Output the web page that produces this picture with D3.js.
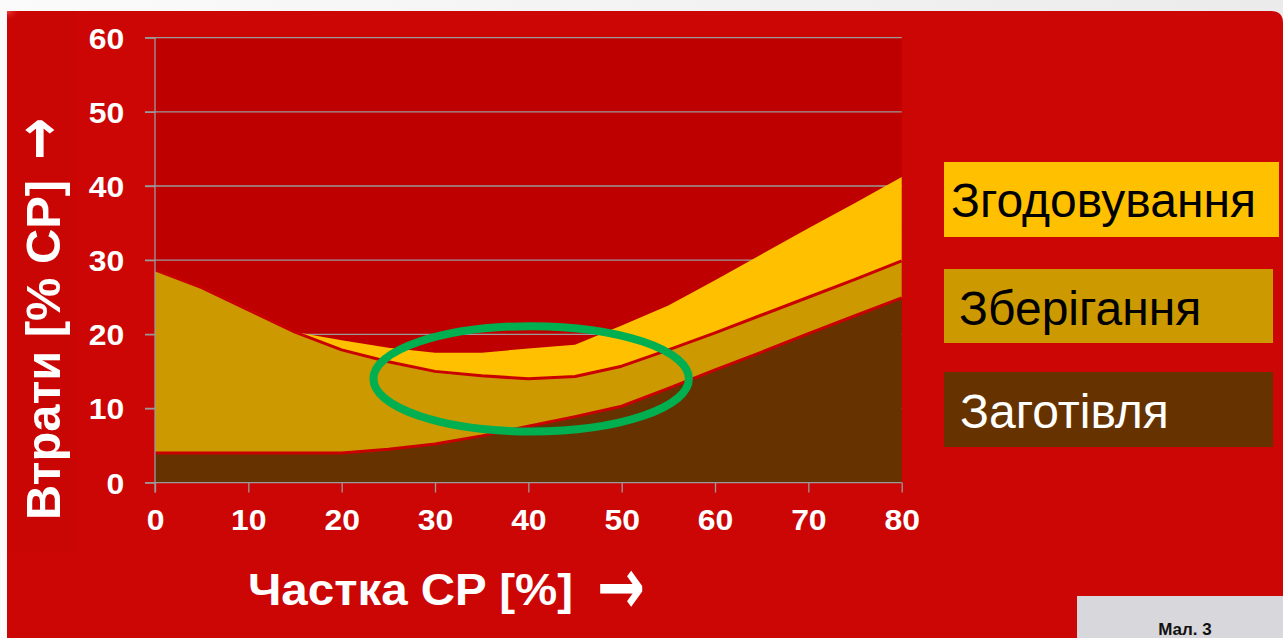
<!DOCTYPE html>
<html><head><meta charset="utf-8">
<script src="https://cdn.jsdelivr.net/npm/d3@7/dist/d3.min.js"></script>
<style>html,body{margin:0;padding:0;background:#fafafa;overflow:hidden}</style>
</head><body>
<svg id="c" width="1283" height="638"></svg>
<script>
// ---- data ----
const shareCP = [0, 5, 10, 15, 20, 25, 30, 35, 40, 45, 50, 55, 60, 65, 70, 75, 80];
const harvestLoss = [4.0, 4.0, 4.0, 4.0, 4.0, 4.5, 5.2, 6.3, 7.6, 8.9, 10.3, 12.7, 15.2, 17.6, 20.1, 22.5, 24.9]; // Заготівля
const storageLoss = [24.7, 22.3, 19.3, 16.3, 13.9, 11.8, 9.8, 8.1, 6.4, 5.4, 5.4, 5.2, 5.0, 5.0, 4.9, 4.9, 5.0]; // Зберігання
const feedingLoss = [0, 0, 0, 0, 1.3, 1.9, 2.5, 3.1, 4.1, 4.3, 5.5, 6.0, 7.1, 8.2, 9.3, 10.3, 11.3]; // Згодовування
const seriesKeys = ["Заготівля", "Зберігання", "Згодовування"];
const legendOrder = ["Згодовування", "Зберігання", "Заготівля"];
const xTickValues = [0, 10, 20, 30, 40, 50, 60, 70, 80];
const yTickValues = [0, 10, 20, 30, 40, 50, 60];
const xTitle = "Частка CP [%]";
const yTitle = "Втрати [% CP]";
const arrowGlyph = "\u2192";
const figLabel = "Мал. 3";
const highlight = {cx: 40.3, cy: 14.0, rx: 16.9, ry: 7.1}; // annotated region, data units

// ---- styles ----
const colors = {"Заготівля": "#663300", "Зберігання": "#CC9900", "Згодовування": "#FFC000"};
const legendText = {"Заготівля": "#ffffff", "Зберігання": "#000000", "Згодовування": "#000000"};
const FONT = "Liberation Sans, Arial, sans-serif";

const svg = d3.select("#c");
const W = 1283, H = 638;

// page background
const defs = svg.append("defs");
const g1 = defs.append("linearGradient").attr("id", "topg").attr("x1", 0).attr("x2", 1).attr("y1", 0).attr("y2", 0);
g1.append("stop").attr("offset", "0%").attr("stop-color", "#fbfbfb");
g1.append("stop").attr("offset", "100%").attr("stop-color", "#ebebeb");
svg.append("rect").attr("width", W).attr("height", H).attr("fill", "url(#topg)");

// red panel with rounded top-right corner
const px0 = 7, py0 = 11, r = 12;
svg.append("path")
  .attr("d", `M${px0},${py0} H${W - r} Q${W},${py0} ${W},${py0 + r} V${H} H${px0} Z`)
  .attr("fill", "#CC0605");
svg.append("rect").attr("x", px0).attr("y", py0).attr("width", 68).attr("height", 542).attr("fill", "#CA0605");
const hl = defs.append("radialGradient").attr("id", "hl").attr("cx", "0%").attr("cy", "0%").attr("r", "100%");
hl.append("stop").attr("offset", "0%").attr("stop-color", "#ff5050").attr("stop-opacity", 0.8);
hl.append("stop").attr("offset", "100%").attr("stop-color", "#CC0605").attr("stop-opacity", 0);
svg.append("rect").attr("x", px0).attr("y", py0).attr("width", 14).attr("height", 10).attr("fill", "url(#hl)");

// scales
const x = d3.scaleLinear().domain([0, 80]).range([155, 901.7]);
const y = d3.scaleLinear().domain([0, 60]).range([482.6, 37.7]);

// plot area
svg.append("rect").attr("x", x(0)).attr("y", y(60)).attr("width", x(80) - x(0)).attr("height", y(0) - y(60)).attr("fill", "#BF0000");

// gridlines (behind areas)
svg.append("g").selectAll("line").data(yTickValues.filter(d => d > 0)).join("line")
  .attr("x1", x(0) - 10).attr("x2", x(80)).attr("y1", d => y(d)).attr("y2", d => y(d))
  .attr("stroke", "#9a9a9a").attr("stroke-width", 1.3);

// stacked areas
const table = shareCP.map((v, i) => ({x: v, "Заготівля": harvestLoss[i], "Зберігання": storageLoss[i], "Згодовування": feedingLoss[i]}));
const stack = d3.stack().keys(seriesKeys)(table);
const area = d3.area().x(d => x(d.data.x)).y0(d => y(d[0])).y1(d => y(d[1]));
svg.append("g").selectAll("path").data(stack).join("path")
  .attr("d", area).attr("fill", d => colors[d.key]);
const topLine = d3.line().x(d => x(d.data.x)).y(d => y(d[1]));
svg.append("g").selectAll("path").data(stack.slice(0, 2)).join("path")
  .attr("d", topLine).attr("fill", "none").attr("stroke", "#C80000").attr("stroke-width", 3).attr("stroke-linejoin", "round");

// axes
const yAxis = svg.append("g").attr("transform", `translate(${x(0)},0)`)
  .call(d3.axisLeft(y).tickValues(yTickValues).tickSize(10).tickPadding(18).tickFormat(d3.format("d")));
const xAxis = svg.append("g").attr("transform", `translate(0,${y(0)})`)
  .call(d3.axisBottom(x).tickValues(xTickValues).tickSize(10).tickPadding(17).tickFormat(d3.format("d")));
[xAxis, yAxis].forEach(a => {
  a.select(".domain").attr("stroke", "#9a9a9a").attr("stroke-width", 1.3);
  a.selectAll(".tick line").attr("stroke", "#9a9a9a").attr("stroke-width", 1.3);
  a.selectAll("text").attr("fill", "#fff").attr("font-family", FONT)
    .attr("font-weight", "bold").attr("font-size", 29);
});
yAxis.select(".domain").attr("d", `M0,${y(60)}V${y(0) + 10}`);
xAxis.select(".domain").attr("d", `M${x(0) - 10},0H${x(80)}`);
yAxis.selectAll(".tick text").attr("transform", "scale(1.1,1)").attr("dy", "0.36em");
xAxis.selectAll(".tick text").attr("transform", "scale(1.1,1)").attr("dy", "0.72em");

// annotation ellipse
svg.append("ellipse")
  .attr("cx", x(highlight.cx)).attr("cy", y(highlight.cy))
  .attr("rx", x(highlight.rx) - x(0)).attr("ry", y(0) - y(highlight.ry))
  .attr("fill", "none").attr("stroke", "#00B050").attr("stroke-width", 8);

// x title
const xt = svg.append("text").attr("fill", "#fff").attr("font-family", FONT).attr("font-weight", "bold");
xt.append("tspan").attr("x", 248).attr("y", 605).attr("font-size", 44)
  .attr("textLength", 325).attr("lengthAdjust", "spacingAndGlyphs").text(xTitle);
xt.append("tspan").attr("x", 597).attr("y", 614).attr("font-family", "DejaVu Sans").attr("font-size", 80)
  .attr("textLength", 48).attr("lengthAdjust", "spacingAndGlyphs").text(arrowGlyph);

// y title (rotated)
const yt = svg.append("text").attr("transform", "translate(60,0) rotate(-90)")
  .attr("fill", "#fff").attr("font-family", FONT).attr("font-weight", "bold");
yt.append("tspan").attr("x", -520).attr("y", 0).attr("font-size", 48)
  .attr("textLength", 340).attr("lengthAdjust", "spacingAndGlyphs").text(yTitle);
yt.append("tspan").attr("x", -160).attr("y", 0).attr("font-family", "DejaVu Sans").attr("font-size", 64)
  .attr("textLength", 42).attr("lengthAdjust", "spacingAndGlyphs").text(arrowGlyph);

// legend boxes
const legendBoxes = [
  {x: 944, y: 162, w: 335, h: 75, tx: 951, ty: 217},
  {x: 944, y: 269, w: 329, h: 74, tx: 959, ty: 325},
  {x: 944, y: 372, w: 329, h: 75, tx: 960, ty: 428}
];
const lg = svg.append("g").selectAll("g").data(legendOrder).join("g");
lg.append("rect").attr("x", (d, i) => legendBoxes[i].x).attr("y", (d, i) => legendBoxes[i].y)
  .attr("width", (d, i) => legendBoxes[i].w).attr("height", (d, i) => legendBoxes[i].h)
  .attr("fill", d => colors[d]);
lg.append("text").attr("x", (d, i) => legendBoxes[i].tx).attr("y", (d, i) => legendBoxes[i].ty)
  .attr("font-family", FONT).attr("font-size", 48)
  .attr("fill", d => legendText[d]).text(d => d);

// figure label
svg.append("rect").attr("x", 1077).attr("y", 596).attr("width", W - 1077).attr("height", H - 596).attr("fill", "#D8D8DC");
svg.append("text").attr("x", 1185).attr("y", 635).attr("text-anchor", "middle")
  .attr("font-family", FONT).attr("font-weight", "bold").attr("font-size", 17)
  .attr("fill", "#111").text(figLabel);
</script>
</body></html>
